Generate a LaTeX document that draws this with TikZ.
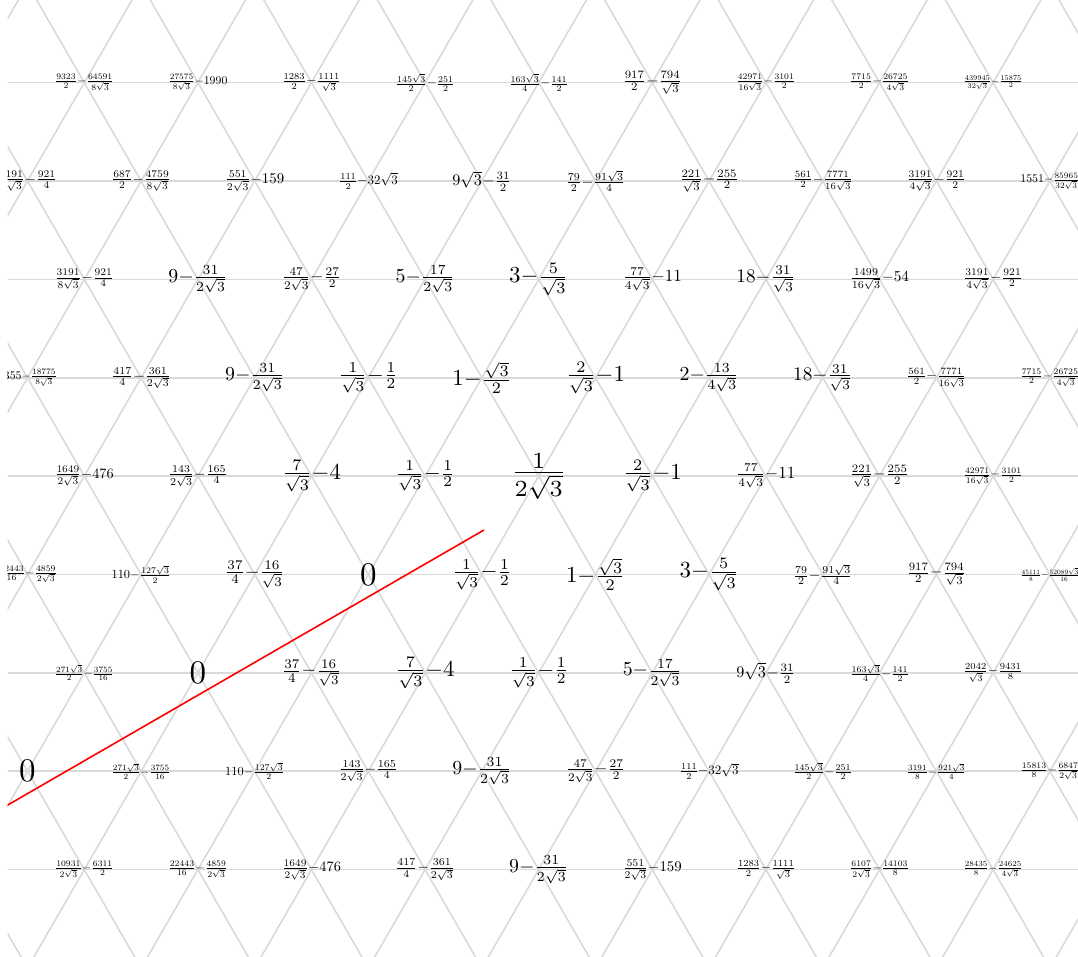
\documentclass[tikz,border=0pt]{standalone}
\usepackage{graphicx}
\newsavebox\lblbox
\tikzset{
  gridline/.style={draw=gray!30, line width=1.6pt},
  redline/.style={draw=red, line width=1.6pt},
  lbl/.style={inner sep=0pt, outer sep=0pt, anchor=center}
}
% #1 row, #2 column, #3 math
\newcommand\vlabel[3]{%
  \sbox\lblbox{\mathcode`\-="0200 $#3$}%
  \pgfmathsetmacro\lblscale{min(59/\the\wd\lblbox,3.3)}%
  \pgfmathsetmacro\lblx{27.5+56.8*mod(#1+1,2)+113.6*#2}%
  \pgfmathsetmacro\lbly{82.6+98.38*#1}%
  \node[lbl] (v-#1-#2) at (\lblx,\lbly) {\scalebox{\lblscale}{\usebox\lblbox}};%
}
\begin{document}
\begin{tikzpicture}[x=1pt,y=-1pt]
\useasboundingbox (0,0) rectangle (1078,957);
\begin{scope}
\clip (7.6,0) rectangle (1078,957);
% horizontal lines
\foreach \r in {0,...,8} {
  \draw[gridline] (0,82.6+98.38*\r) -- (1078,82.6+98.38*\r);
}
% diagonal lines
\foreach \j in {-12,...,22} {
  \draw[gridline] (84.3+113.6*\j-56.8*2,82.6-98.38*2) -- (84.3+113.6*\j+56.8*12,82.6+98.38*12);
  \draw[gridline] (84.3+113.6*\j+56.8*2,82.6-98.38*2) -- (84.3+113.6*\j-56.8*12,82.6+98.38*12);
}
% row 0
\vlabel{0}{0}{\frac{9323}{2}-\frac{64591}{8\sqrt{3}}}
\vlabel{0}{1}{\frac{27575}{8\sqrt{3}}-1990}
\vlabel{0}{2}{\frac{1283}{2}-\frac{1111}{\sqrt{3}}}
\vlabel{0}{3}{\frac{145\sqrt{3}}{2}-\frac{251}{2}}
\vlabel{0}{4}{\frac{163\sqrt{3}}{4}-\frac{141}{2}}
\vlabel{0}{5}{\frac{917}{2}-\frac{794}{\sqrt{3}}}
\vlabel{0}{6}{\frac{42971}{16\sqrt{3}}-\frac{3101}{2}}
\vlabel{0}{7}{\frac{7715}{2}-\frac{26725}{4\sqrt{3}}}
\vlabel{0}{8}{\frac{439945}{32\sqrt{3}}-\frac{15875}{2}}
% row 1
\vlabel{1}{0}{\frac{3191}{8\sqrt{3}}-\frac{921}{4}}
\vlabel{1}{1}{\frac{687}{2}-\frac{4759}{8\sqrt{3}}}
\vlabel{1}{2}{\frac{551}{2\sqrt{3}}-159}
\vlabel{1}{3}{\frac{111}{2}-32\sqrt{3}}
\vlabel{1}{4}{9\sqrt{3}-\frac{31}{2}}
\vlabel{1}{5}{\frac{79}{2}-\frac{91\sqrt{3}}{4}}
\vlabel{1}{6}{\frac{221}{\sqrt{3}}-\frac{255}{2}}
\vlabel{1}{7}{\frac{561}{2}-\frac{7771}{16\sqrt{3}}}
\vlabel{1}{8}{\frac{3191}{4\sqrt{3}}-\frac{921}{2}}
\vlabel{1}{9}{1551-\frac{85965}{32\sqrt{3}}}
% row 2
\vlabel{2}{0}{\frac{3191}{8\sqrt{3}}-\frac{921}{4}}
\vlabel{2}{1}{9-\frac{31}{2\sqrt{3}}}
\vlabel{2}{2}{\frac{47}{2\sqrt{3}}-\frac{27}{2}}
\vlabel{2}{3}{5-\frac{17}{2\sqrt{3}}}
\vlabel{2}{4}{3-\frac{5}{\sqrt{3}}}
\vlabel{2}{5}{\frac{77}{4\sqrt{3}}-11}
\vlabel{2}{6}{18-\frac{31}{\sqrt{3}}}
\vlabel{2}{7}{\frac{1499}{16\sqrt{3}}-54}
\vlabel{2}{8}{\frac{3191}{4\sqrt{3}}-\frac{921}{2}}
% row 3
\vlabel{3}{0}{1355-\frac{18775}{8\sqrt{3}}}
\vlabel{3}{1}{\frac{417}{4}-\frac{361}{2\sqrt{3}}}
\vlabel{3}{2}{9-\frac{31}{2\sqrt{3}}}
\vlabel{3}{3}{\frac{1}{\sqrt{3}}-\frac{1}{2}}
\vlabel{3}{4}{1-\frac{\sqrt{3}}{2}}
\vlabel{3}{5}{\frac{2}{\sqrt{3}}-1}
\vlabel{3}{6}{2-\frac{13}{4\sqrt{3}}}
\vlabel{3}{7}{18-\frac{31}{\sqrt{3}}}
\vlabel{3}{8}{\frac{561}{2}-\frac{7771}{16\sqrt{3}}}
\vlabel{3}{9}{\frac{7715}{2}-\frac{26725}{4\sqrt{3}}}
% row 4
\vlabel{4}{0}{\frac{1649}{2\sqrt{3}}-476}
\vlabel{4}{1}{\frac{143}{2\sqrt{3}}-\frac{165}{4}}
\vlabel{4}{2}{\frac{7}{\sqrt{3}}-4}
\vlabel{4}{3}{\frac{1}{\sqrt{3}}-\frac{1}{2}}
\vlabel{4}{4}{\frac{1}{2\sqrt{3}}}
\vlabel{4}{5}{\frac{2}{\sqrt{3}}-1}
\vlabel{4}{6}{\frac{77}{4\sqrt{3}}-11}
\vlabel{4}{7}{\frac{221}{\sqrt{3}}-\frac{255}{2}}
\vlabel{4}{8}{\frac{42971}{16\sqrt{3}}-\frac{3101}{2}}
% row 5
\vlabel{5}{0}{\frac{22443}{16}-\frac{4859}{2\sqrt{3}}}
\vlabel{5}{1}{110-\frac{127\sqrt{3}}{2}}
\vlabel{5}{2}{\frac{37}{4}-\frac{16}{\sqrt{3}}}
\vlabel{5}{3}{0}
\vlabel{5}{4}{\frac{1}{\sqrt{3}}-\frac{1}{2}}
\vlabel{5}{5}{1-\frac{\sqrt{3}}{2}}
\vlabel{5}{6}{3-\frac{5}{\sqrt{3}}}
\vlabel{5}{7}{\frac{79}{2}-\frac{91\sqrt{3}}{4}}
\vlabel{5}{8}{\frac{917}{2}-\frac{794}{\sqrt{3}}}
\vlabel{5}{9}{\frac{45111}{8}-\frac{52089\sqrt{3}}{16}}
% row 6
\vlabel{6}{0}{\frac{271\sqrt{3}}{2}-\frac{3755}{16}}
\vlabel{6}{1}{0}
\vlabel{6}{2}{\frac{37}{4}-\frac{16}{\sqrt{3}}}
\vlabel{6}{3}{\frac{7}{\sqrt{3}}-4}
\vlabel{6}{4}{\frac{1}{\sqrt{3}}-\frac{1}{2}}
\vlabel{6}{5}{5-\frac{17}{2\sqrt{3}}}
\vlabel{6}{6}{9\sqrt{3}-\frac{31}{2}}
\vlabel{6}{7}{\frac{163\sqrt{3}}{4}-\frac{141}{2}}
\vlabel{6}{8}{\frac{2042}{\sqrt{3}}-\frac{9431}{8}}
% row 7
\vlabel{7}{0}{0}
\vlabel{7}{1}{\frac{271\sqrt{3}}{2}-\frac{3755}{16}}
\vlabel{7}{2}{110-\frac{127\sqrt{3}}{2}}
\vlabel{7}{3}{\frac{143}{2\sqrt{3}}-\frac{165}{4}}
\vlabel{7}{4}{9-\frac{31}{2\sqrt{3}}}
\vlabel{7}{5}{\frac{47}{2\sqrt{3}}-\frac{27}{2}}
\vlabel{7}{6}{\frac{111}{2}-32\sqrt{3}}
\vlabel{7}{7}{\frac{145\sqrt{3}}{2}-\frac{251}{2}}
\vlabel{7}{8}{\frac{3191}{8}-\frac{921\sqrt{3}}{4}}
\vlabel{7}{9}{\frac{15813}{8}-\frac{6847}{2\sqrt{3}}}
% row 8
\vlabel{8}{0}{\frac{10931}{2\sqrt{3}}-\frac{6311}{2}}
\vlabel{8}{1}{\frac{22443}{16}-\frac{4859}{2\sqrt{3}}}
\vlabel{8}{2}{\frac{1649}{2\sqrt{3}}-476}
\vlabel{8}{3}{\frac{417}{4}-\frac{361}{2\sqrt{3}}}
\vlabel{8}{4}{9-\frac{31}{2\sqrt{3}}}
\vlabel{8}{5}{\frac{551}{2\sqrt{3}}-159}
\vlabel{8}{6}{\frac{1283}{2}-\frac{1111}{\sqrt{3}}}
\vlabel{8}{7}{\frac{6107}{2\sqrt{3}}-\frac{14103}{8}}
\vlabel{8}{8}{\frac{28435}{8}-\frac{24625}{4\sqrt{3}}}
% red line
\coordinate (rstart) at (0,809.5);
\coordinate (rend) at (484,530);
\draw[redline] (rstart) -- (rend);
\end{scope}
\end{tikzpicture}
\end{document}
